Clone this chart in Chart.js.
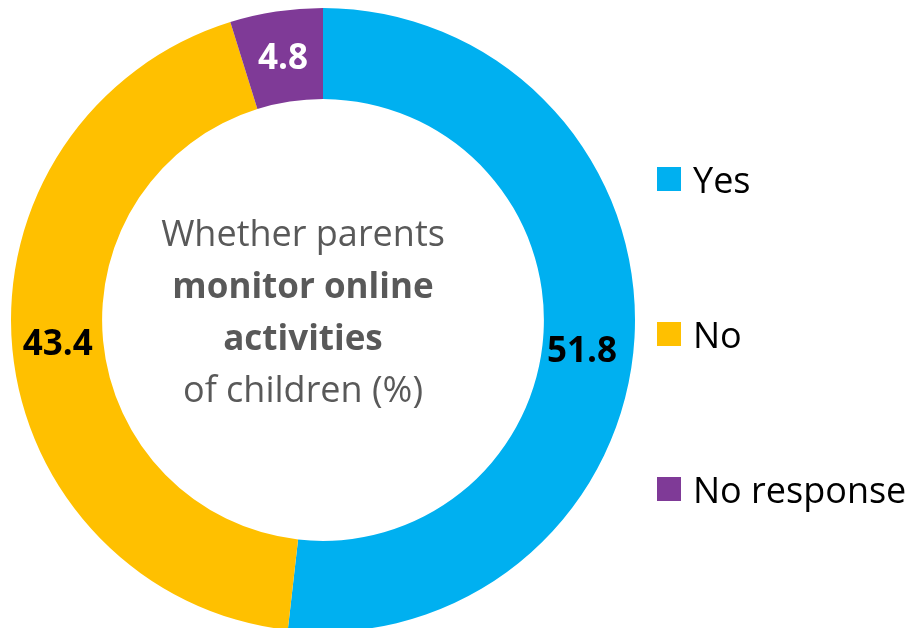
<!DOCTYPE html>
<html>
<head>
<meta charset="utf-8">
<title>Parents monitoring online activities</title>
<script src="https://cdn.jsdelivr.net/npm/chart.js@4.4.1/dist/chart.umd.min.js"></script>
<style>
    html, body { margin: 0; padding: 0; background: #fff; overflow: hidden; }
    #wrap { position: relative; width: 911px; height: 640px; }
    #donut { position: absolute; left: 0; top: 0; }
    #centerText {
        position: absolute; left: 0; top: 207px; width: 606px;
        text-align: center; color: #595959;
        font-family: "Open Sans", sans-serif; font-size: 36px; line-height: 52px;
    }
    #centerText b { font-weight: 700; font-size: 35px; }
    #legend { position: absolute; left: 657px; top: 0; margin: 0; padding: 0; list-style: none; }
    #legend li {
        position: absolute; left: 0; height: 48px; white-space: nowrap;
        display: flex; align-items: center;
        font-family: "Open Sans", sans-serif; font-size: 36px; color: #000;
    }
    #legend .box { width: 24px; height: 24px; margin-right: 12px; flex: none; }
</style>
</head>
<body>
<div id="wrap">
    <canvas id="donut" width="911" height="640"></canvas>
    <div id="centerText">
        Whether parents<br><b>monitor online</b><br><b>activities</b><br>of children (%)
    </div>
    <ul id="legend"></ul>
</div>

<script>
/* ================= DATA ================= */
const answers = ["Yes", "No", "No response"];
const shares = [51.8, 43.4, 4.8];
const sliceColors = ["#00B0F0", "#FFC000", "#7F3A97"];
const valueLabelColors = ["#000000", "#000000", "#FFFFFF"];

/* ================= VALUE LABELS ON SLICES ================= */
const sliceValuePlugin = {
    id: "sliceValues",
    afterDatasetsDraw(chart, args, opts) {
        const ctx = chart.ctx;
        const meta = chart.getDatasetMeta(0);
        ctx.save();
        ctx.font = "bold 35px 'Open Sans', sans-serif";
        ctx.textAlign = "center";
        ctx.textBaseline = "middle";
        meta.data.forEach((arc, i) => {
            const pos = arc.tooltipPosition();
            const nudge = (opts.nudge && opts.nudge[i]) || [0, 0];
            ctx.fillStyle = valueLabelColors[i];
            ctx.fillText(String(shares[i]), pos.x + nudge[0], pos.y + nudge[1]);
        });
        ctx.restore();
    }
};

/* ================= DONUT ================= */
const donutChart = new Chart(document.getElementById("donut"), {
    type: "doughnut",
    data: {
        labels: answers,
        datasets: [{
            data: shares,
            backgroundColor: sliceColors,
            borderWidth: 0,
            hoverOffset: 0,
            offset: 0
        }]
    },
    options: {
        responsive: false,
        animation: false,
        devicePixelRatio: 1,
        cutout: "70.8%",
        layout: { padding: { left: 11, top: 8, right: 276, bottom: 8 } },
        plugins: {
            legend: { display: false },
            tooltip: { enabled: false },
            sliceValues: { nudge: { 0: [-7, 17], 2: [0, 2] } }
        }
    },
    plugins: [sliceValuePlugin]
});

/* ================= LEGEND ================= */
const legendEl = document.getElementById("legend");
answers.forEach((name, i) => {
    const li = document.createElement("li");
    li.style.top = (155 + i * 155) + "px";
    const box = document.createElement("span");
    box.className = "box";
    box.style.background = sliceColors[i];
    li.appendChild(box);
    li.appendChild(document.createTextNode(name));
    legendEl.appendChild(li);
});
</script>
</body>
</html>
